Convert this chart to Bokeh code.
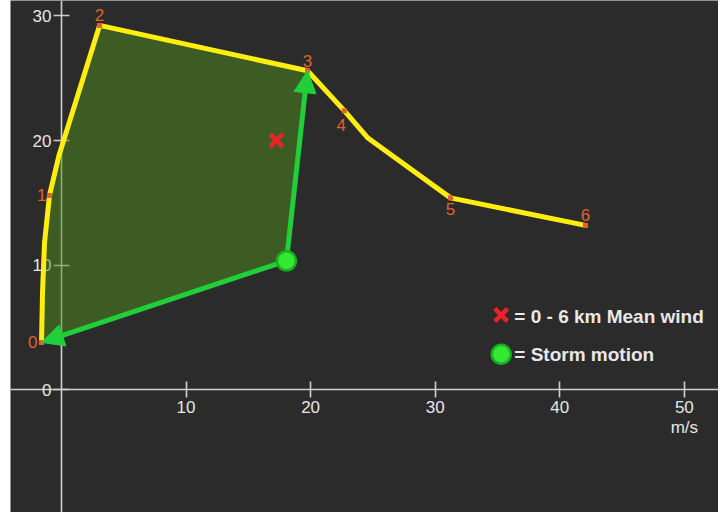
from bokeh.plotting import figure
from bokeh.models import FixedTicker, Arrow, NormalHead, Range1d
from bokeh.core.properties import value
from bokeh.embed import file_html
from bokeh.resources import INLINE

# ---- data (m/s) ----
path_u = [-1.6, -1.52, -1.36, -0.96, -0.2, 3.06, 19.75, 22.7, 24.6, 31.23, 42.06]
path_v = [3.8, 7.8, 11.8, 15.6, 18.8, 29.24, 25.6, 22.4, 20.2, 15.4, 13.19]
level_labels = ["0", "1", "2", "3", "4", "5", "6"]
level_u = [-1.6, -0.96, 3.06, 19.75, 22.7, 31.23, 42.06]
level_v = [3.8, 15.6, 29.24, 25.6, 22.4, 15.4, 13.19]
storm_u, storm_v = 18.06, 10.35
mean_u, mean_v = 17.26, 20.0
x_ticks = [10, 20, 30, 40, 50]
y_ticks = [0, 10, 20, 30]
legend_texts = ["= 0 - 6 km Mean wind", "= Storm motion"]

BG = "#2b2b2b"
AX = "#cfcfcf"
GREEN = "#1fd03a"
ORANGE = "#e2622c"
FONT = "Liberation Sans"

p = figure(width=718, height=512, output_backend="svg", toolbar_location=None,
           x_range=Range1d(-4.09, 52.74), y_range=Range1d(-9.85, 31.24),
           min_border_left=10, min_border_right=0, min_border_top=0, min_border_bottom=0)
p.background_fill_color = BG
p.border_fill_color = "white"
p.outline_line_color = None
p.grid.visible = False

for ax in (p.xaxis[0], p.yaxis[0]):
    ax.fixed_location = 0
    ax.axis_line_color = AX
    ax.axis_line_width = 1.6
    ax.major_tick_line_color = AX
    ax.major_tick_line_width = 1.6
    ax.major_tick_in = 8
    ax.major_tick_out = 8
    ax.minor_tick_line_color = None
    ax.major_label_text_color = "#e6e6e6"
    ax.major_label_text_font = FONT
    ax.major_label_text_font_size = "17px"
    ax.level = "underlay"
p.xaxis[0].ticker = FixedTicker(ticks=x_ticks)
p.yaxis[0].ticker = FixedTicker(ticks=y_ticks)
p.xaxis[0].major_label_standoff = 3
p.yaxis[0].major_label_standoff = 2

p.text(x=[x_ticks[-1]], y=[0], text=["m/s"], text_color="#e6e6e6",
       text_font=value(FONT), text_font_size="17px",
       text_align="center", text_baseline="top", y_offset=28)

# shaded area: hodograph 0-3 km back through storm motion
n3 = path_u.index(level_u[3]) + 1
poly_u = path_u[:n3] + [storm_u]
poly_v = path_v[:n3] + [storm_v]
p.patch(poly_u, poly_v, fill_color="#4e8e1c", fill_alpha=0.5, line_color=None)

p.line(path_u, path_v, line_color="#ffee10", line_width=5, line_join="round")
p.scatter(level_u, level_v, marker="square", size=5, fill_color=ORANGE, line_color=None)

# level labels
anchors = [("right", "middle", -4, 0), ("right", "middle", -3, 0), ("center", "bottom", 0, -4),
           ("center", "bottom", 0, -4), ("center", "top", -3, 8), ("center", "top", 0, 5),
           ("center", "bottom", 0, -4)]
for lab, u, v, (al, bl, dx, dy) in zip(level_labels, level_u, level_v, anchors):
    p.text(x=[u], y=[v], text=[lab], text_color=ORANGE, text_font=value(FONT),
           text_font_size="17px", text_align=al, text_baseline=bl, x_offset=dx, y_offset=dy)

# storm motion arrows
for i in (0, 3):
    p.add_layout(Arrow(end=NormalHead(size=22, fill_color=GREEN, line_color=GREEN),
                       x_start=storm_u, y_start=storm_v, x_end=level_u[i], y_end=level_v[i],
                       line_color=GREEN, line_width=5))

p.scatter([storm_u], [storm_v], marker="circle", size=19, fill_color="#34e834",
          line_color="#16b020", line_width=2.5, level="overlay")
p.scatter([mean_u], [mean_v], marker="x", size=18, line_color="#e8232a", line_width=4.5)

# legend
p.scatter([35.3], [6.0], marker="x", size=18, line_color="#e8232a", line_width=4.5)
p.scatter([35.3], [2.85], marker="circle", size=19, fill_color="#34e834",
          line_color="#16b020", line_width=2.5)
for t, yy in zip(legend_texts, [5.85, 2.85]):
    p.text(x=[36.35], y=[yy], text=[t], text_color="#e8e8e8", text_font=value(FONT),
           text_font_size="19px", text_font_style="bold", text_align="left",
           text_baseline="middle")

open("out.html", "w").write(file_html(p, INLINE))
